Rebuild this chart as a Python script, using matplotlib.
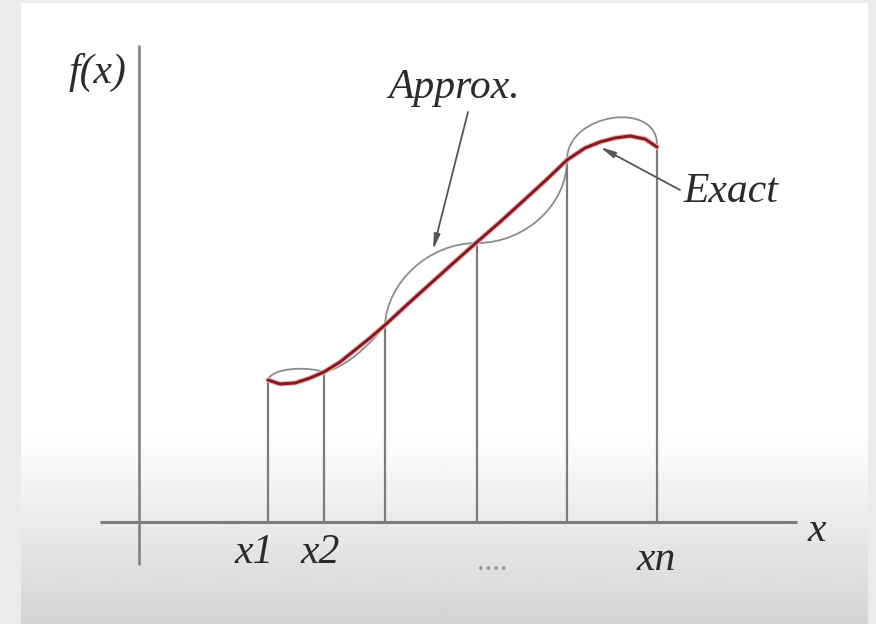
import numpy as np
import matplotlib
matplotlib.use("Agg")
import matplotlib.pyplot as plt
from matplotlib.path import Path
from matplotlib.patches import PathPatch

# Noeuds x1 ... xn et valeurs de f aux noeuds
node_x = [1.29, 1.85, 2.46, 3.38, 4.28, 5.18]
node_y = [1.42, 1.50, 1.97, 2.79, 3.62, 3.75]

# Courbe exacte
exact_x = [1.29, 1.41, 1.56, 1.71, 1.85, 2.01, 2.16, 2.31, 2.46, 2.71, 2.91, 3.11,
           3.38, 3.61, 3.83, 4.06, 4.28, 4.46, 4.61, 4.76, 4.91, 5.06, 5.18]
exact_y = [1.42, 1.38, 1.39, 1.44, 1.50, 1.60, 1.72, 1.84, 1.97, 2.20, 2.38, 2.56,
           2.80, 3.00, 3.20, 3.41, 3.62, 3.74, 3.80, 3.84, 3.86, 3.83, 3.75]

# Arcs d'approximation : points de controle (Bezier cubique) par intervalle
ctrl1_x = [1.33, 2.06, 2.48, 3.86, 4.28]
ctrl1_y = [1.54, 1.54, 2.39, 2.79, 4.10]
ctrl2_x = [1.66, 2.31, 2.89, 4.28, 5.21]
ctrl2_y = [1.56, 1.77, 2.79, 3.17, 4.22]

tick_labels = ["x1", "x2", "....", "xn"]
tick_pos_x = [1.15, 1.81, 3.53, 5.17]
tick_pos_y = [-0.31, -0.31, -0.40, -0.38]

W, H = 876, 624
fig = plt.figure(figsize=(W / 100, H / 100), dpi=100, facecolor="#ebebeb")

# Fond : cadre blanc avec degrade gris en bas
bg = fig.add_axes([0, 0, 1, 1])
bg.set_xlim(0, W)
bg.set_ylim(H, 0)
bg.axis("off")
rows = np.arange(3, H)
shade = np.where(rows < 430, 1.0, 1.0 - 0.17 * (rows - 430) / (H - 430))
grad = np.repeat(shade[:, None], 2, axis=1)
bg.imshow(grad, cmap="gray", vmin=0, vmax=1, extent=(21, 868, H, 3),
          aspect="auto", interpolation="bilinear")

ax = fig.add_axes([0, 0, 1, 1])
ax.patch.set_alpha(0)
ax.set_xlim(-1.39, 7.37)
ax.set_ylim(-1.02, 5.22)
ax.axis("off")

axis_col = "#7c7c7c"
txt_col = "#2b2b2b"
font = dict(family="Liberation Serif", style="italic", color=txt_col)

# Axes
ax.plot([-0.39, 6.58], [0, 0], color=axis_col, lw=2.2, solid_capstyle="butt")
ax.plot([0, 0], [-0.43, 4.77], color=axis_col, lw=1.8, solid_capstyle="butt")

# Lignes verticales aux noeuds
for xv, yv in zip(node_x, node_y):
    ax.plot([xv, xv], [0, yv], color=axis_col, lw=1.6)

# Arcs d'approximation
for i in range(len(node_x) - 1):
    verts = [(node_x[i], node_y[i]), (ctrl1_x[i], ctrl1_y[i]),
             (ctrl2_x[i], ctrl2_y[i]), (node_x[i + 1], node_y[i + 1])]
    codes = [Path.MOVETO, Path.CURVE4, Path.CURVE4, Path.CURVE4]
    ax.add_patch(PathPatch(Path(verts, codes), facecolor="none",
                           edgecolor="#8c8c8c", lw=1.3))

# Courbe exacte
ax.plot(exact_x, exact_y, color="#f2b8b8", lw=3.8, solid_capstyle="round",
        solid_joinstyle="round")
ax.plot(exact_x, exact_y, color="#861c20", lw=2.2, solid_capstyle="round",
        solid_joinstyle="round")

# Annotations
arrow = dict(arrowstyle="-|>,head_length=0.9,head_width=0.18",
             color="#555555", lw=1.3, shrinkA=0, shrinkB=0)
ax.annotate("", xy=(2.94, 2.72), xytext=(3.29, 4.10), arrowprops=arrow)
ax.text(3.15, 4.34, "Approx.", fontsize=30, ha="center", va="center", **font)
ax.annotate("", xy=(4.61, 3.75), xytext=(5.41, 3.32), arrowprops=arrow)
ax.text(5.92, 3.30, "Exact", fontsize=30, ha="center", va="center", **font)

ax.text(-0.42, 4.50, "f(x)", fontsize=30, ha="center", va="center", **font)
ax.text(6.78, -0.09, "x", fontsize=30, ha="center", va="center", **font)
for lab, tx, ty in zip(tick_labels, tick_pos_x, tick_pos_y):
    if lab == "....":
        ax.text(tx, ty, lab, fontsize=22, ha="center", va="center",
                family="Liberation Serif", color="#999999")
    else:
        ax.text(tx, ty, lab, fontsize=30, ha="center", va="center", **font)

fig.savefig("out.png", dpi=100, facecolor=fig.get_facecolor())
